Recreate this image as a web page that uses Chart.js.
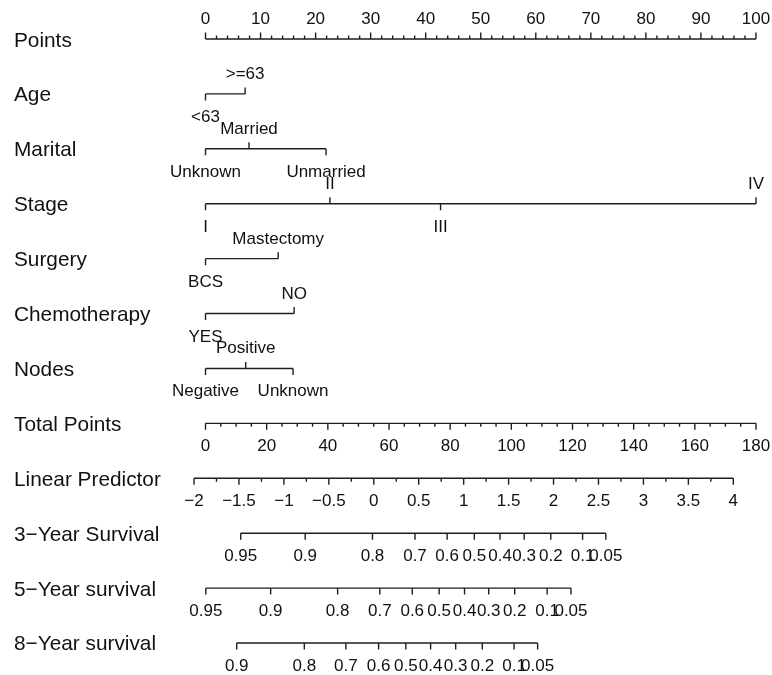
<!DOCTYPE html>
<html><head><meta charset="utf-8">
<script src="https://cdn.jsdelivr.net/npm/chart.js@4.4.0/dist/chart.umd.min.js"></script>
<style>html,body{margin:0;padding:0;background:#fff;}#wrap{width:772px;height:675px;}</style>
</head><body><div id="wrap"><canvas id="c" width="772" height="675"></canvas></div>
<script>
// ---------- DATA ----------
const rowLabels = ['Points','Age','Marital','Stage','Surgery','Chemotherapy','Nodes','Total Points','Linear Predictor','3\u2212Year Survival','5\u2212Year survival','8\u2212Year survival'];

const pointsTickLabels = [0,10,20,30,40,50,60,70,80,90,100];
const ageLevels = ['<63','>=63'];
const agePoints = [0, 7.2];
const maritalLevels = ['Unknown','Married','Unmarried'];
const maritalPoints = [0, 7.9, 21.9];
const stageLevels = ['I','II','III','IV'];
const stagePoints = [0, 22.6, 42.7, 100];
const surgeryLevels = ['BCS','Mastectomy'];
const surgeryPoints = [0, 13.2];
const chemoLevels = ['YES','NO'];
const chemoPoints = [0, 16.1];
const nodesLevels = ['Negative','Positive','Unknown'];
const nodesPoints = [0, 7.3, 15.9];

const totalPointsTickLabels = [0,20,40,60,80,100,120,140,160,180];
const totalPointsMax = 180;
const lpTickLabels = [-2,-1.5,-1,-0.5,0,0.5,1,1.5,2,2.5,3,3.5,4];
const lpEndsPoints = [-2.09, 95.88]; // points position of LP = -2 and LP = 4

const surv3Labels = ['0.95','0.9','0.8','0.7','0.6','0.5','0.4','0.3','0.2','0.1','0.05'];
const surv3TotalPoints = [11.5,32.6,54.6,68.5,79.0,87.9,96.3,104.2,112.9,123.3,130.9];
const surv5Labels = ['0.95','0.9','0.8','0.7','0.6','0.5','0.4','0.3','0.2','0.1','0.05'];
const surv5TotalPoints = [0.1,21.3,43.2,57.0,67.6,76.4,84.7,92.6,101.1,111.7,119.5];
const surv8Labels = ['0.9','0.8','0.7','0.6','0.5','0.4','0.3','0.2','0.1','0.05'];
const surv8TotalPoints = [10.2,32.3,45.9,56.6,65.5,73.6,81.8,90.5,100.9,108.6];

// ---------- LAYOUT / STYLE ----------
const labelSides = {
  1: ['below','above'],
  2: ['below','above','below'],
  3: ['below','above','below','above'],
  4: ['below','above'],
  5: ['below','above'],
  6: ['below','above','below']
};
const PAD = {left:189, right:5, top:11.55, bottom:4.55};
const ROW_PX = (675 - PAD.top - PAD.bottom) / 12;
const MAJ = 6.5 / ROW_PX, MIN = 3.5 / ROW_PX;
const LINE_COLOR = '#1e1e1e';
const FONT = '"Liberation Sans", Arial, Helvetica, sans-serif';

const tpToPts = v => v * 100 / totalPointsMax;
const lpToPts = v => lpEndsPoints[0] + (v - lpTickLabels[0]) * (lpEndsPoints[1] - lpEndsPoints[0]) / (lpTickLabels[lpTickLabels.length-1] - lpTickLabels[0]);

const texts = [];
const datasets = [];
function addRow(data){
  datasets.push({data, borderColor:LINE_COLOR, borderWidth:1.4, pointRadius:0, spanGaps:false, tension:0, fill:false});
}
function seg(arr,x1,y1,x2,y2){ arr.push({x:x1,y:y1},{x:x2,y:y2},{x:x2,y:null}); }

// Points row (ticks up)
(function(){
  const r = 0, d = [];
  seg(d, 0, r, 100, r);
  for (let v = 0; v <= 100; v += 2) {
    const major = pointsTickLabels.includes(v);
    seg(d, v, r, v, r - (major ? MAJ : MIN));
  }
  pointsTickLabels.forEach(v => texts.push({x:v, row:r, text:String(v), side:'above'}));
  addRow(d);
})();

// categorical rows
[[1,ageLevels,agePoints],[2,maritalLevels,maritalPoints],[3,stageLevels,stagePoints],
 [4,surgeryLevels,surgeryPoints],[5,chemoLevels,chemoPoints],[6,nodesLevels,nodesPoints]].forEach(([r,levels,pts])=>{
  const d = [];
  seg(d, Math.min(...pts), r, Math.max(...pts), r);
  levels.forEach((lv,i)=>{
    const side = labelSides[r][i];
    seg(d, pts[i], r, pts[i], side === 'above' ? r - MAJ : r + MAJ);
    texts.push({x:pts[i], row:r, text:lv, side});
  });
  addRow(d);
});

// Total points (ticks down)
(function(){
  const r = 7, d = [];
  seg(d, 0, r, 100, r);
  for (let v = 0; v <= totalPointsMax; v += 5) {
    const major = totalPointsTickLabels.includes(v);
    seg(d, tpToPts(v), r, tpToPts(v), r + (major ? MAJ : MIN));
  }
  totalPointsTickLabels.forEach(v => texts.push({x:tpToPts(v), row:r, text:String(v), side:'below'}));
  addRow(d);
})();

// Linear predictor
(function(){
  const r = 8, d = [];
  seg(d, lpToPts(-2), r, lpToPts(4), r);
  for (let v = -2; v <= 4.0001; v += 0.25) {
    const major = lpTickLabels.some(t => Math.abs(t - v) < 1e-6);
    seg(d, lpToPts(v), r, lpToPts(v), r + (major ? MAJ : MIN));
  }
  lpTickLabels.forEach(v => texts.push({x:lpToPts(v), row:r, text:String(v).replace('-','\u2212'), side:'below'}));
  addRow(d);
})();

// survival rows
[[9,surv3Labels,surv3TotalPoints],[10,surv5Labels,surv5TotalPoints],[11,surv8Labels,surv8TotalPoints]].forEach(([r,labs,tps])=>{
  const d = [];
  seg(d, tpToPts(tps[0]), r, tpToPts(tps[tps.length-1]), r);
  tps.forEach((t,i)=>{
    seg(d, tpToPts(t), r, tpToPts(t), r + MAJ);
    texts.push({x:tpToPts(t), row:r, text:labs[i], side:'below'});
  });
  addRow(d);
});

const textPlugin = {
  id:'nomoText',
  afterDatasetsDraw(chart){
    const ctx = chart.ctx, xs = chart.scales.x, ys = chart.scales.y;
    ctx.save();
    ctx.fillStyle = '#111';
    ctx.textBaseline = 'alphabetic';
    ctx.font = '20.8px ' + FONT;
    ctx.textAlign = 'left';
    rowLabels.forEach((t,i)=> ctx.fillText(t, 14, ys.getPixelForValue(i) + 7.5));
    ctx.font = '17px ' + FONT;
    ctx.textAlign = 'center';
    texts.forEach(o=>{
      const px = xs.getPixelForValue(o.x);
      const py = ys.getPixelForValue(o.row) + (o.side === 'above' ? -15 : 28);
      ctx.fillText(o.text, px, py);
    });
    ctx.restore();
  }
};

new Chart(document.getElementById('c'), {
  type:'line',
  data:{datasets},
  options:{
    responsive:false, animation:false, devicePixelRatio:1,
    layout:{padding:PAD},
    plugins:{legend:{display:false}, tooltip:{enabled:false}},
    scales:{
      x:{type:'linear', min:-3, max:102, display:false},
      y:{type:'linear', min:-0.5, max:11.5, reverse:true, display:false}
    }
  },
  plugins:[textPlugin]
});
</script></body></html>
